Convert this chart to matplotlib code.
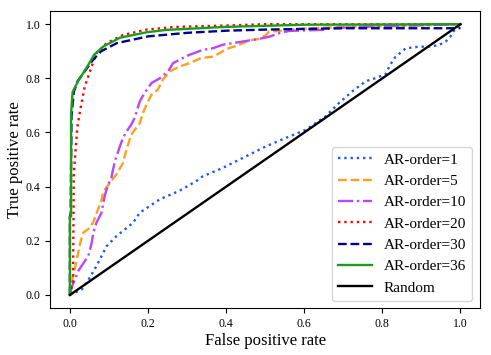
import matplotlib
matplotlib.use("Agg")
import matplotlib.pyplot as plt

plt.rcParams['font.family'] = ['Liberation Serif', 'DejaVu Serif']

# AR-order=1 (blue dotted)
fpr_1 = [0.0, 0.03, 0.045, 0.068, 0.094, 0.119, 0.162, 0.179, 0.23, 0.281, 0.323, 0.34, 0.391,
         0.451, 0.502, 0.553, 0.604, 0.655, 0.689, 0.723, 0.757, 0.783, 0.808, 0.82, 0.834,
         0.86, 0.894, 0.919, 0.945, 0.962, 0.974, 0.985, 1.0]
tpr_1 = [0.0, 0.02, 0.05, 0.107, 0.18, 0.217, 0.267, 0.304, 0.353, 0.385, 0.42, 0.438, 0.469,
         0.512, 0.549, 0.58, 0.61, 0.66, 0.709, 0.752, 0.789, 0.801, 0.815, 0.85, 0.88,
         0.911, 0.917, 0.917, 0.923, 0.936, 0.954, 0.98, 1.0]

# AR-order=5 (orange dashed)
fpr_5 = [0.0, 0.004, 0.008, 0.017, 0.026, 0.034, 0.051, 0.06, 0.072, 0.081, 0.085, 0.102, 0.119,
         0.136, 0.145, 0.157, 0.179, 0.187, 0.196, 0.209, 0.225, 0.238, 0.255, 0.281, 0.306,
         0.336, 0.366, 0.383, 0.4, 0.426, 0.46, 0.485, 0.502, 0.51, 0.545, 0.562, 0.62, 0.7, 1.0]
tpr_5 = [0.0, 0.03, 0.07, 0.125, 0.19, 0.23, 0.248, 0.27, 0.316, 0.35, 0.38, 0.414, 0.445,
         0.488, 0.537, 0.592, 0.635, 0.672, 0.703, 0.74, 0.758, 0.795, 0.825, 0.844, 0.856,
         0.875, 0.88, 0.893, 0.908, 0.92, 0.94, 0.946, 0.96, 0.973, 0.976, 0.98, 0.985, 0.99, 1.0]

# AR-order=10 (purple dash-dot)
fpr_10 = [0.0, 0.004, 0.013, 0.021, 0.03, 0.038, 0.047, 0.055, 0.06, 0.068, 0.081, 0.089, 0.094,
          0.098, 0.106, 0.115, 0.128, 0.136, 0.145, 0.157, 0.166, 0.172, 0.179, 0.191, 0.209,
          0.23, 0.251, 0.264, 0.289, 0.306, 0.34, 0.366, 0.391, 0.417, 0.451, 0.485, 0.511,
          0.536, 0.562, 0.579, 0.647, 0.664, 0.75, 1.0]
tpr_10 = [0.0, 0.027, 0.058, 0.088, 0.107, 0.125, 0.144, 0.187, 0.23, 0.267, 0.304, 0.365, 0.39,
          0.408, 0.432, 0.494, 0.549, 0.58, 0.604, 0.629, 0.654, 0.684, 0.715, 0.746, 0.783,
          0.8, 0.825, 0.856, 0.875, 0.887, 0.905, 0.911, 0.924, 0.93, 0.938, 0.946, 0.954,
          0.967, 0.975, 0.976, 0.979, 0.985, 0.99, 1.0]

# AR-order=20 (red dotted)
fpr_20 = [0.0, 0.008, 0.01, 0.019, 0.026, 0.038, 0.051, 0.068, 0.094, 0.136, 0.196, 0.27, 0.4,
          0.5, 1.0]
tpr_20 = [0.0, 0.05, 0.45, 0.62, 0.68, 0.77, 0.825, 0.893, 0.93, 0.96, 0.98, 0.99, 0.995,
          1.0, 1.0]

# AR-order=30 (navy dashed)
fpr_30 = [0.0, 0.0, 0.002, 0.004, 0.01, 0.02, 0.04, 0.06, 0.08, 0.12, 0.2, 0.3, 0.4, 0.5,
          0.7, 1.0]
tpr_30 = [0.0, 0.29, 0.3, 0.66, 0.75, 0.79, 0.83, 0.87, 0.9, 0.93, 0.955, 0.968, 0.976, 0.98,
          0.985, 0.985]

# AR-order=36 (green solid)
fpr_36 = [0.0, 0.0, 0.003, 0.003, 0.007, 0.021, 0.043, 0.062, 0.085, 0.128, 0.196, 0.247, 0.4,
          0.6, 1.0]
tpr_36 = [0.0, 0.29, 0.29, 0.67, 0.75, 0.79, 0.84, 0.887, 0.917, 0.95, 0.97, 0.979, 0.99,
          0.998, 1.0]

random_x = [0.0, 1.0]
random_y = [0.0, 1.0]

series = [
    (fpr_1, tpr_1, 'AR-order=1', '#2255ff', ':'),
    (fpr_5, tpr_5, 'AR-order=5', '#ffa024', '--'),
    (fpr_10, tpr_10, 'AR-order=10', '#bb44ff', '-.'),
    (fpr_20, tpr_20, 'AR-order=20', '#ff0000', ':'),
    (fpr_30, tpr_30, 'AR-order=30', '#00008b', '--'),
    (fpr_36, tpr_36, 'AR-order=36', '#1a9e1a', '-'),
]

fig = plt.figure(figsize=(4.91, 3.55), dpi=100)
ax = fig.add_axes([0.1026, 0.131, 0.875, 0.839])

for x, y, lab, c, ls in series:
    ax.plot(x, y, color=c, linestyle=ls, linewidth=1.7, label=lab)
ax.plot(random_x, random_y, color='black', linewidth=1.7, label='Random')

ax.set_xlim(-0.05, 1.05)
ax.set_ylim(-0.05, 1.05)
ax.set_xticks([0.0, 0.2, 0.4, 0.6, 0.8, 1.0])
ax.set_yticks([0.0, 0.2, 0.4, 0.6, 0.8, 1.0])
ax.tick_params(labelsize=8.5)
ax.set_xlabel('False positive rate', fontsize=12, labelpad=2)
ax.set_ylabel('True positive rate', fontsize=12, labelpad=2)
ax.legend(loc='lower right', fontsize=11, handlelength=2.2)

fig.savefig('out.png', dpi=100)
